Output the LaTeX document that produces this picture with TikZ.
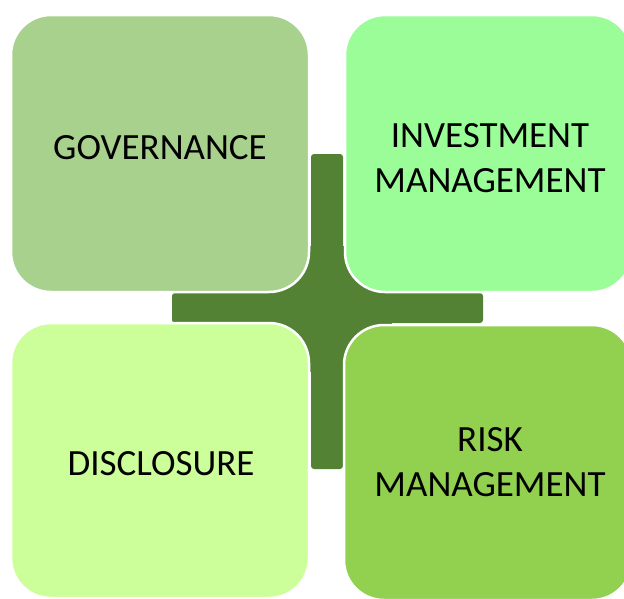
\documentclass[tikz,border=0pt]{standalone}
\usepackage{fontspec}
\setmainfont{Carlito}
\definecolor{crossgreen}{HTML}{548235}
\definecolor{govgreen}{HTML}{A9D18E}
\definecolor{invgreen}{HTML}{9AFD98}
\definecolor{disgreen}{HTML}{CCFF99}
\definecolor{riskgreen}{HTML}{92D050}
\tikzset{
  tile/.style={draw=white, line width=2.5pt, rounded corners=40pt, inner sep=0pt},
  tiletext/.style={font=\fontsize{37}{45}\selectfont, align=center, text=black, inner sep=0pt},
  crossbar/.style={fill=crossgreen, rounded corners=3pt}
}
\begin{document}
\begin{tikzpicture}[x=1pt, y=-1pt]
  \path[use as bounding box] (0,0) rectangle (624,598);
  \clip (0,0) rectangle (624,598);
  % background cross
  \fill[crossbar] (311,154) rectangle (343,469);
  \fill[crossbar] (172,293) rectangle (483,323);
  \fill[crossgreen] (262,246) rectangle (392,372);
  % the four tiles
  \node[tile, fill=govgreen, minimum width=298pt, minimum height=277pt] (gov) at (160,153.5) {};
  \node[tile, fill=invgreen, minimum width=287pt, minimum height=277pt] (inv) at (488.5,153.5) {};
  \node[tile, fill=disgreen, minimum width=298pt, minimum height=275pt] (dis) at (160,460.5) {};
  \node[tile, fill=riskgreen, minimum width=288pt, minimum height=275pt] (risk) at (488,462.5) {};
  % labels
  \node[tiletext] (govtext) at (160,148) {GOVERNANCE};
  \node[tiletext] (invtext) at (490,158) {INVESTMENT\\MANAGEMENT};
  \node[tiletext] (distext) at (161,464) {DISCLOSURE};
  \node[tiletext] (risktext) at (490,462) {RISK\\MANAGEMENT};
\end{tikzpicture}
\end{document}
